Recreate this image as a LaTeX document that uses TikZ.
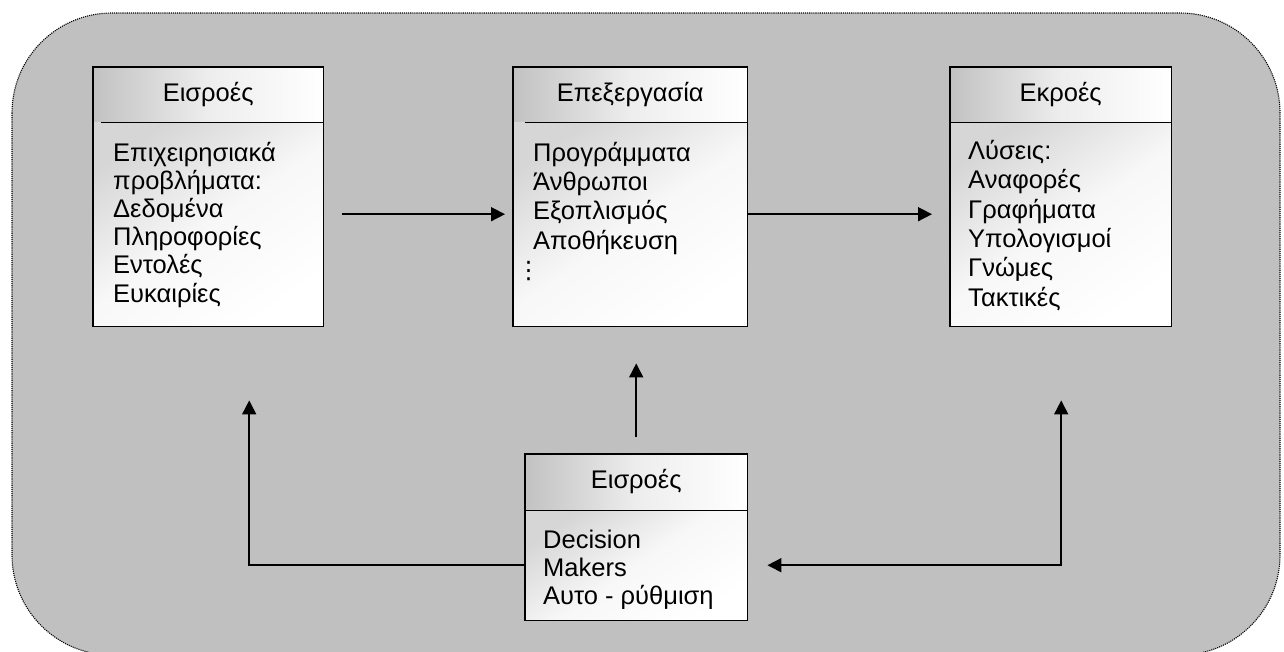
\documentclass[tikz,border=0pt]{standalone}
\usepackage{fontspec}
\setmainfont{Liberation Sans}
\newfontfamily\symbolfont{DejaVu Sans}
\usetikzlibrary{arrows.meta}
\definecolor{panel}{RGB}{192,192,192}
\begin{document}
\begin{tikzpicture}[x=1pt,y=-1pt,
  every node/.style={font=\fontsize{25.5}{28}\selectfont},
  hdr/.style={anchor=north west, inner sep=0pt, text height=18pt, text depth=5pt,
    minimum height=55pt, left color=black!24, right color=white, middle color=black!7},
  bodybox/.style={anchor=north west, inner sep=0pt, top color=black!16,
    bottom color=white, middle color=black!3, shading angle=35},
  frame/.style={line width=1.6pt},
  % multi-line text is placed by the baseline of its last line
  bodytext/.style={anchor=base west, align=left, inner sep=0pt,
    font=\fontsize{25.5}{#1}\selectfont},
  bodytext/.default=28,
  arr/.style={line width=1.6pt, -{Triangle[length=14pt,width=14pt]}},
  arrboth/.style={line width=1.6pt, {Triangle[length=14pt,width=14pt]}-{Triangle[length=14pt,width=14pt]}},
]
\useasboundingbox (0,0) rectangle (1284,651);

% rounded grey panel with dotted outline
\draw[fill=panel, densely dotted, line width=1.1pt, rounded corners=100pt]
  (12,13) rectangle (1280,655);

% input box
\node[hdr, minimum width=230pt] (Lh) at (93,67) {Εισροές};
\node[bodybox, minimum width=230pt, minimum height=204pt] (Lb) at (93,122) {};
\draw[frame] (Lh.north west) rectangle (Lb.south east);
\draw[frame] ([xshift=8pt]Lh.south west) -- (Lh.south east);
\node[bodytext=28.1] (Lt) at (113,302)
  {Επιχειρησιακά\\προβλήματα:\\Δεδομένα\\Πληροφορίες\\Εντολές\\Ευκαιρίες};

% processing box
\node[hdr, minimum width=234pt] (Mh) at (513,67) {Επεξεργασία};
\node[bodybox, minimum width=234pt, minimum height=204pt] (Mb) at (513,122) {};
\draw[frame] (Mh.north west) rectangle (Mb.south east);
\draw[frame] ([xshift=12pt]Mh.south west) -- (Mh.south east);
\node[bodytext=29.2] (Mt) at (533,249)
  {Προγράμματα\\Άνθρωποι\\Εξοπλισμός\\Αποθήκευση};
\node[inner sep=0pt, font=\symbolfont\fontsize{24}{24}\selectfont]
  (Md) at (528.5,271) {⋮};

% output box
\node[hdr, minimum width=221pt] (Rh) at (950,67) {Εκροές};
\node[bodybox, minimum width=221pt, minimum height=204pt] (Rb) at (950,122) {};
\draw[frame] (Rh.north west) rectangle (Rb.south east);
\draw[frame] (Rh.south west) -- (Rh.south east);
\node[bodytext=29.3] (Rt) at (968,306)
  {Λύσεις:\\Αναφορές\\Γραφήματα\\Υπολογισμοί\\Γνώμες\\Τακτικές};

% decision makers box
\node[hdr, minimum width=222pt, minimum height=56pt] (Bh) at (525,454) {Εισροές};
\node[bodybox, minimum width=222pt, minimum height=110pt] (Bb) at (525,510) {};
\begin{scope}
  \clip (Bb.north west) rectangle ([yshift=12pt]Bb.south east);
  \node[bodytext=28] (Bt) at (543,604) {Decision\\Makers\\Αυτο - ρύθμιση};
\end{scope}
\draw[frame] (Bh.north west) rectangle (Bb.south east);
\draw[frame] (Bh.south west) -- (Bh.south east);

% connectors
\draw[arr] ([shift={(19,-10)}]Lb.east) -- ([shift={(-8,-10)}]Mb.west);
\draw[arr] ([yshift=10pt]Mb.east) -- ([shift={(-18,-10)}]Rb.west);
\draw[arr] ([yshift=17pt]Bh.north) -- ([yshift=-37pt]Bh.north |- Mb.south);
\draw[arr] (Bb.west) -| ([shift={(41,74)}]Lb.south);
\draw[arrboth] ([xshift=20pt]Bb.east) -| ([shift={(0.5,74)}]Rb.south);
\end{tikzpicture}
\end{document}
